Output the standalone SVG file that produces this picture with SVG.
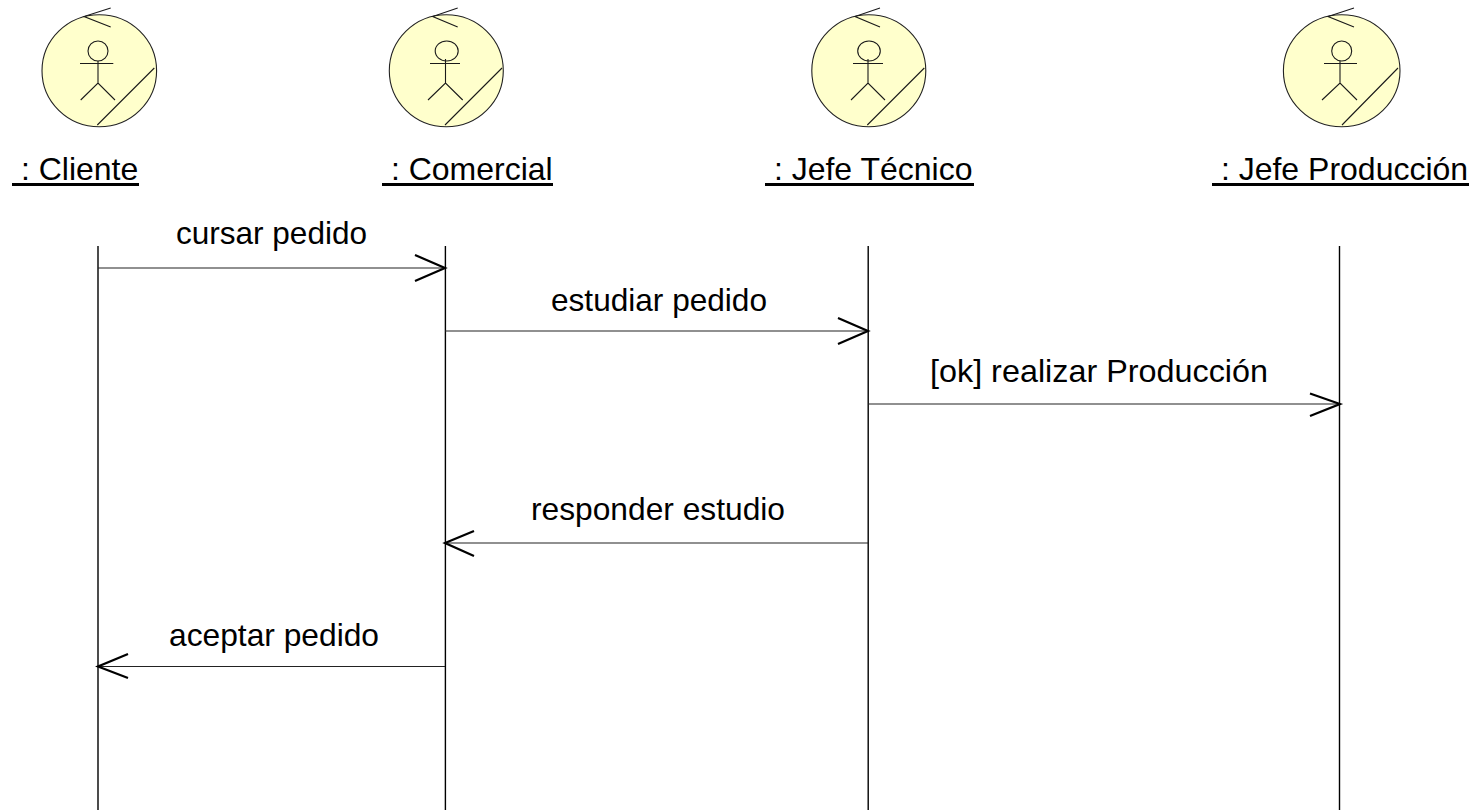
<svg xmlns="http://www.w3.org/2000/svg" width="1479" height="810" viewBox="0 0 1479 810">
<defs>
<style>
text{font-family:"Liberation Sans",Arial,sans-serif;font-size:32px;fill:#000}
.u{fill:none;stroke:#000;stroke-width:3}
.b{fill:#ffffcc;stroke:#222;stroke-width:1.1}
.s{fill:none;stroke:#1a1a1a;stroke-width:1.1}
.l{fill:none;stroke:#000;stroke-width:1.4}
.m{fill:none;stroke:#222;stroke-width:1.2}
.h{fill:none;stroke:#000;stroke-width:2.2}
</style>
</defs>
<rect width="1479" height="810" fill="#fff"/>
<g id="n-cliente">
<ellipse class="b" cx="99.300" cy="70.700" rx="57.300" ry="56"/>
<path class="s" d="M110.700 8L84 16.500L110.700 27M154.300 68L97.300 125"/>
<ellipse class="s" cx="98" cy="51" rx="10" ry="10"/>
<path class="s" d="M80 63.500H113.300M98 61V83M80.700 100L98 83L115 100"/>
<text x="12" y="180" xml:space="preserve"> : Cliente</text><path class="u" d="M12 184.500H139"/></g>
<g id="n-comercial">
<ellipse class="b" cx="446.300" cy="70.700" rx="57" ry="56"/>
<path class="s" d="M457.700 8L432.700 16.500L457.700 27M502 68L445 125"/>
<ellipse class="s" cx="446.700" cy="51" rx="11.500" ry="10"/>
<path class="s" d="M430 63.500H460M445.500 59V83M428 100L445.500 83L462.700 100"/>
<text x="382" y="180" xml:space="preserve"> : Comercial</text><path class="u" d="M382 184.500H553"/></g>
<g id="n-jefe-tecnico">
<ellipse class="b" cx="868.800" cy="70.700" rx="57" ry="56"/>
<path class="s" d="M880 8L855 16.500L880 27M924.300 68L867.300 125"/>
<ellipse class="s" cx="869" cy="51" rx="11.300" ry="10"/>
<path class="s" d="M853 63.500H883M868 59V83M851 100L868 83L885 100"/>
<text x="765" y="180" xml:space="preserve"> : Jefe Técnico</text><path class="u" d="M765 184.500H974"/></g>
<g id="n-jefe-produccion">
<ellipse class="b" cx="1341.700" cy="70.700" rx="58.300" ry="56"/>
<path class="s" d="M1354 8L1328 16.500L1354 27M1398 68L1342 125"/>
<ellipse class="s" cx="1341.700" cy="51" rx="10" ry="10"/>
<path class="s" d="M1324 63.500H1357M1340 61V83M1322 100L1340 83L1357 100"/>
<text x="1212" y="180" xml:space="preserve"> : Jefe Producción</text><path class="u" d="M1212 184.500H1469"/></g>
<g id="connectors">
<path class="l" d="M98 246V810M445.400 246V810M868.200 246V810M1339.500 246V810"/>
<path class="m" d="M98 268H445M445 331H868M868 404H1340M868 543H445M445 666.500H98"/>
<path class="h" d="M415 255L445 268L415 281M838 318L868 331L838 344M1310 393.500L1340 404L1310 416M474 531L445 543L474 556M128 654L98 666.500L128 678"/>
</g>
<g id="labels">
<text x="176" y="244" textLength="191" lengthAdjust="spacingAndGlyphs">cursar pedido</text>
<text x="551" y="311" textLength="216" lengthAdjust="spacingAndGlyphs">estudiar pedido</text>
<text x="930" y="382" textLength="338" lengthAdjust="spacingAndGlyphs">[ok] realizar Producción</text>
<text x="531" y="520" textLength="254" lengthAdjust="spacingAndGlyphs">responder estudio</text>
<text x="169" y="646" textLength="210" lengthAdjust="spacingAndGlyphs">aceptar pedido</text>
</g>
</svg>
